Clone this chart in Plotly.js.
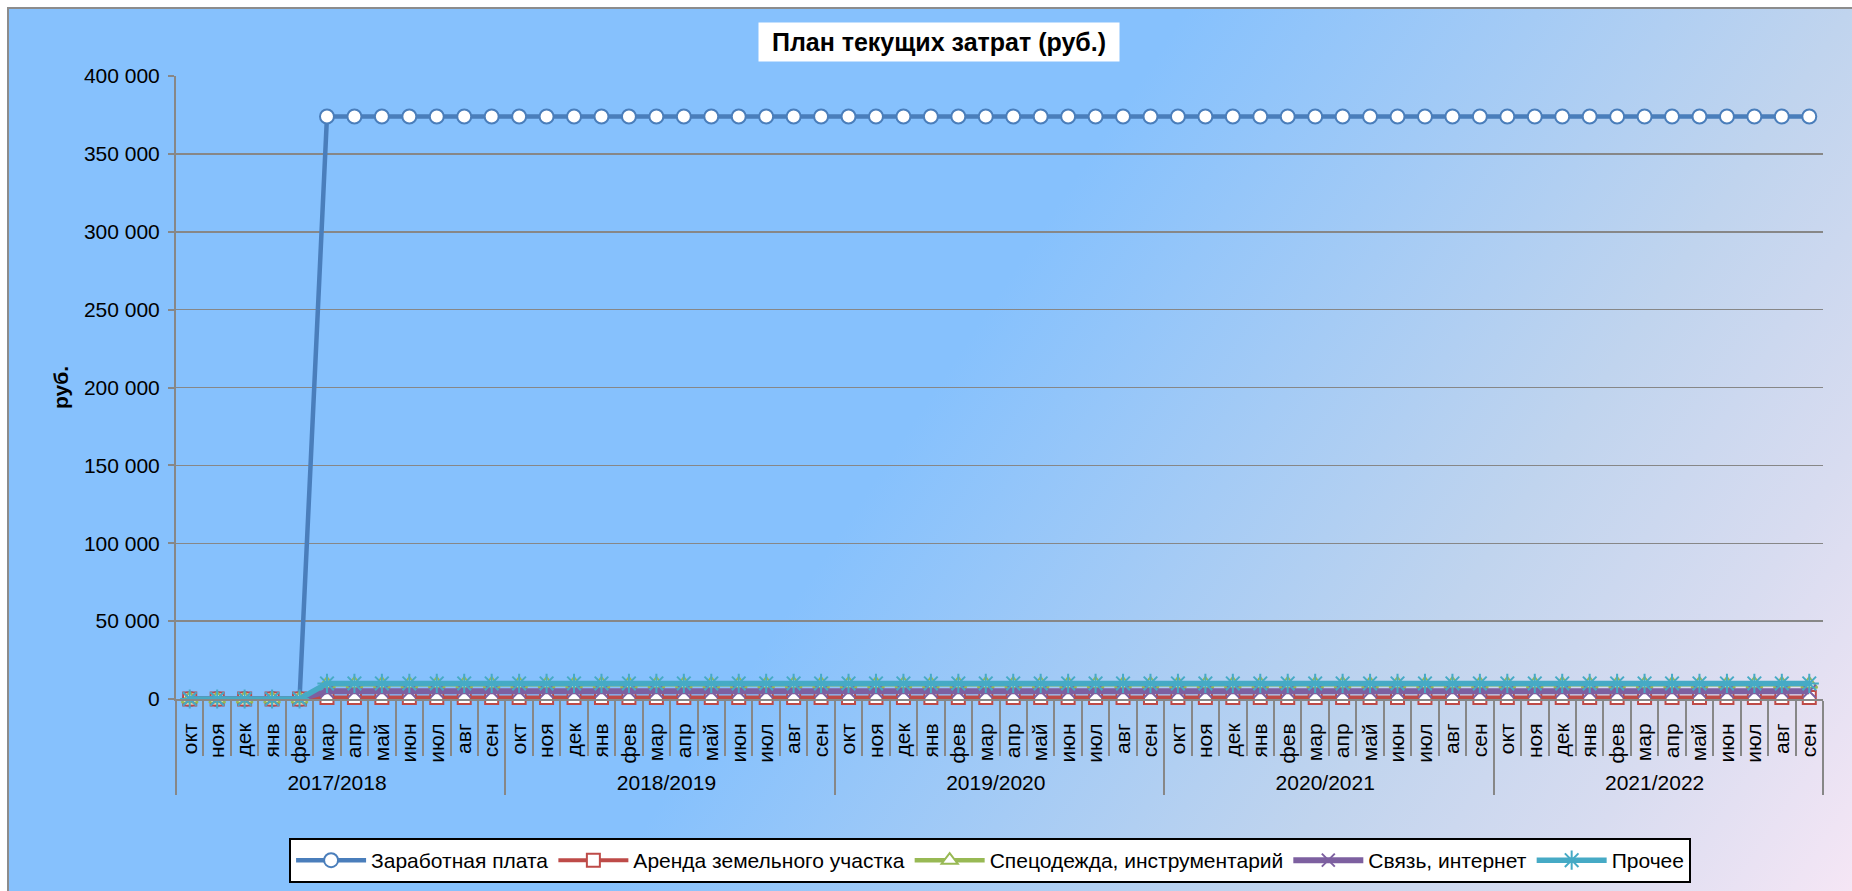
<!DOCTYPE html>
<html><head><meta charset="utf-8">
<script src="https://cdn.plot.ly/plotly-3.0.1.min.js"></script>
<style>
html,body{margin:0;padding:0;background:#fff;width:1852px;height:891px;overflow:hidden;}
#bg{position:absolute;left:7px;top:7px;width:1845px;height:884px;box-sizing:border-box;border-left:2px solid #8c8c8c;border-top:2px solid #8c8c8c;
background:linear-gradient(123.6deg,#86c1fd 0%,#86c1fd 48.5%,#c0d4ee 75.8%,#d8dcf0 87.9%,#f5e6f5 100%);}
#chart{position:absolute;left:0;top:0;width:1852px;height:891px;}
</style></head><body><div id="bg"></div><div id="chart"></div>
<script>
const years = ['2017/2018','2018/2019','2019/2020','2020/2021','2021/2022'];
const months = ['окт','ноя','дек','янв','фев','мар','апр','май','июн','июл','авг','сен'];

const salary = [
 0,0,0,0,0,374000,374000,374000,374000,374000,374000,374000,
 374000,374000,374000,374000,374000,374000,374000,374000,374000,374000,374000,374000,
 374000,374000,374000,374000,374000,374000,374000,374000,374000,374000,374000,374000,
 374000,374000,374000,374000,374000,374000,374000,374000,374000,374000,374000,374000,
 374000,374000,374000,374000,374000,374000,374000,374000,374000,374000,374000,374000];
const rent = [
 0,0,0,0,0,1000,1000,1000,1000,1000,1000,1000,
 1000,1000,1000,1000,1000,1000,1000,1000,1000,1000,1000,1000,
 1000,1000,1000,1000,1000,1000,1000,1000,1000,1000,1000,1000,
 1000,1000,1000,1000,1000,1000,1000,1000,1000,1000,1000,1000,
 1000,1000,1000,1000,1000,1000,1000,1000,1000,1000,1000,1000];
const workwear = [
 0,0,0,0,0,9500,9500,9500,9500,9500,9500,9500,
 9500,9500,9500,9500,9500,9500,9500,9500,9500,9500,9500,9500,
 9500,9500,9500,9500,9500,9500,9500,9500,9500,9500,9500,9500,
 9500,9500,9500,9500,9500,9500,9500,9500,9500,9500,9500,9500,
 9500,9500,9500,9500,9500,9500,9500,9500,9500,9500,9500,9500];
const comm = [
 0,0,0,0,0,5000,5000,5000,5000,5000,5000,5000,
 5000,5000,5000,5000,5000,5000,5000,5000,5000,5000,5000,5000,
 5000,5000,5000,5000,5000,5000,5000,5000,5000,5000,5000,5000,
 5000,5000,5000,5000,5000,5000,5000,5000,5000,5000,5000,5000,
 5000,5000,5000,5000,5000,5000,5000,5000,5000,5000,5000,5000];
const other = [
 0,0,0,0,0,10000,10000,10000,10000,10000,10000,10000,
 10000,10000,10000,10000,10000,10000,10000,10000,10000,10000,10000,10000,
 10000,10000,10000,10000,10000,10000,10000,10000,10000,10000,10000,10000,
 10000,10000,10000,10000,10000,10000,10000,10000,10000,10000,10000,10000,
 10000,10000,10000,10000,10000,10000,10000,10000,10000,10000,10000,10000];

const seriesNames = ['Заработная плата','Аренда земельного участка','Спецодежда, инструментарий','Связь, интернет','Прочее'];

const xYear = [], xMonth = [];
years.forEach(y => months.forEach(m => { xYear.push(y); xMonth.push(m); }));

function tr(name, y, color, symbol, lw, msize, open) {
  return {
    type:'scatter', mode:'lines+markers', name:name,
    x:[xYear, xMonth], y:y, cliponaxis:false,
    line:{color:color, width:lw},
    marker: open ? {symbol:symbol, size:msize, color:color, line:{color:color, width:2}}
                 : {symbol:symbol, size:msize, color:'#ffffff', line:{color:color, width:2}}
  };
}

const data = [
  tr(seriesNames[0], salary, '#4a7ebb', 'circle', 4.5, 14, false),
  tr(seriesNames[1], rent, '#be4b48', 'square', 4, 13, false),
  tr(seriesNames[2], workwear, '#98b954', 'triangle-up', 4.5, 14, false),
  tr(seriesNames[3], comm, '#7d60a0', 'x-thin-open', 6, 13, true),
  tr(seriesNames[4], other, '#46aac5', 'asterisk-open', 5.5, 16, true)
];

const layout = {
  width:1852, height:891,
  margin:{l:176, r:29, t:76, b:192, pad:0, autoexpand:false},
  paper_bgcolor:'rgba(0,0,0,0)', plot_bgcolor:'rgba(0,0,0,0)',
  separators:', ',
  font:{family:'Liberation Sans, Arial, sans-serif', size:21, color:'#000'},
  showlegend:true,
  legend:{orientation:'h', xref:'container', yref:'container', x:0.5346, xanchor:'center', y:0.0595, yanchor:'top',
    bgcolor:'#ffffff', bordercolor:'#000000', borderwidth:2, font:{size:21}, itemwidth:70, traceorder:'normal'},
  xaxis:{type:'multicategory', range:[-0.5, 59.5], tickmode:'linear', tick0:0, dtick:1,
    showline:true, linecolor:'#878787', linewidth:2,
    ticks:'outside', ticklen:55, tickwidth:2, tickcolor:'#878787', tickson:'boundaries',
    showdividers:true, dividercolor:'#878787', dividerwidth:2,
    tickangle:-90, tickfont:{size:21}, ticklabelstandoff:14,
    showgrid:false, zeroline:false, automargin:false},
  yaxis:{range:[0,400000], dtick:50000, tick0:0, tickformat:',d',
    showline:true, linecolor:'#878787', linewidth:2,
    ticks:'outside', ticklen:6, tickwidth:2, tickcolor:'#878787',
    gridcolor:'#878787', gridwidth:1.5, zeroline:false, tickfont:{size:21},
    ticklabelstandoff:4,
    title:{text:'<b>руб.</b>', font:{size:21}, standoff:10}, automargin:false},
  annotations:[{text:'<b>План текущих затрат (руб.)</b>', xref:'paper', yref:'paper',
    x:0.4633, y:1.0546, xanchor:'center', yanchor:'middle', showarrow:false,
    width:352, height:30, borderpad:4,
    bgcolor:'#ffffff', font:{size:25}}]
};

Plotly.newPlot('chart', data, layout, {staticPlot:true});
</script></body></html>
